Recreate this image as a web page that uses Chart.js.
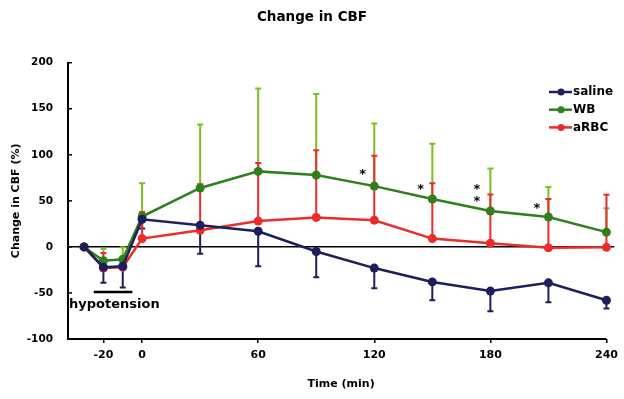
<!DOCTYPE html>
<html>
<head>
<meta charset="utf-8">
<script src="https://cdn.jsdelivr.net/npm/chart.js@4.4.1/dist/chart.umd.min.js"></script>
<style>
  html, body { margin: 0; padding: 0; background: #fff; }
  #wrap { width: 624px; height: 399px; }
</style>
</head>
<body>
<div id="wrap"><canvas id="cbf" width="624" height="399"></canvas></div>
<script>
// Change in CBF after hypotension, three resuscitation groups

const times = [-30, -20, -10, 0, 30, 60, 90, 120, 150, 180, 210, 240];
const xTicks = [-20, 0, 60, 120, 180, 240];

const saline = [0, -22, -21, 30, 23.5, 17, -5, -23, -38, -48, -39, -58];
const salineSD = [0, 17, 23, 10, 31, 38, 28, 22, 20, 22, 21, 9];

const wb = [0, -15, -13.5, 33, 64, 82, 78, 66, 52, 39, 32.5, 16];
const wbSD = [0, 13, 13, 36, 69, 90, 88, 68, 60, 46, 32.5, 26];

const arbc = [0, -23, -22, 9, 18, 28, 32, 29, 9, 4, -1, -0.5];
const arbcSD = [0, 16.5, 10, 29, 50, 63, 73, 70, 60, 53, 53, 57];

// significance marks (time, value)
const starX = [114, 144, 173, 173, 204];
const starY = [82, 65, 65.5, 52, 45];

const hypoText = 'hypotension';
const hypoFrom = -25;
const hypoTo = -5;
const hypoLevel = -49;

const FONT = 'DejaVu Sans';
Chart.defaults.font.family = FONT;
Chart.defaults.color = '#000';

const series = [
  { label: 'saline', data: saline, sd: salineSD, dir: -1, color: '#1c1f5c', bar: '#1c1f5c' },
  { label: 'WB', data: wb, sd: wbSD, dir: 1, color: '#2f7f1c', bar: '#7cbf1e' },
  { label: 'aRBC', data: arbc, sd: arbcSD, dir: 1, color: '#ec2b2b', bar: '#ec2b2b' },
];

const toXY = (vals) => vals.map((v, i) => ({ x: times[i], y: v }));

const errorBars = {
  id: 'errorBars',
  beforeDatasetsDraw(chart) {
    const { ctx, scales: { x, y } } = chart;
    ctx.save();
    ctx.lineWidth = 2;
    series.forEach((s) => {
      ctx.strokeStyle = s.bar;
      s.data.forEach((v, i) => {
        if (!s.sd[i]) return;
        const px = x.getPixelForValue(times[i]);
        const y0 = y.getPixelForValue(v);
        const y1 = y.getPixelForValue(v + s.dir * s.sd[i]);
        ctx.beginPath();
        ctx.moveTo(px, y0);
        ctx.lineTo(px, y1);
        ctx.moveTo(px - 3, y1);
        ctx.lineTo(px + 3, y1);
        ctx.stroke();
      });
    });
    ctx.restore();
  },
  afterDraw(chart) {
    const { ctx, chartArea, scales: { x, y } } = chart;
    ctx.save();
    // x axis line stops at the last tick
    ctx.strokeStyle = '#000';
    ctx.lineWidth = 2;
    ctx.beginPath();
    ctx.moveTo(chartArea.left - 1, chartArea.bottom);
    ctx.lineTo(x.getPixelForValue(xTicks[xTicks.length - 1]), chartArea.bottom);
    ctx.stroke();
    // inward ticks on y
    ctx.lineWidth = 1.5;
    y.ticks.forEach((t) => {
      const py = y.getPixelForValue(t.value);
      ctx.beginPath();
      ctx.moveTo(chartArea.left, py);
      ctx.lineTo(chartArea.left + 4, py);
      ctx.stroke();
    });

    // asterisks
    ctx.fillStyle = '#000';
    ctx.font = 'bold 13px ' + FONT;
    ctx.textAlign = 'center';
    ctx.textBaseline = 'middle';
    starX.forEach((sx, i) => {
      ctx.fillText('*', x.getPixelForValue(sx), y.getPixelForValue(starY[i]) + 3);
    });

    // hypotension label
    ctx.font = 'bold 13px ' + FONT;
    ctx.textAlign = 'left';
    ctx.fillText(hypoText, chartArea.left + 1, y.getPixelForValue(hypoLevel) + 13);

    // legend
    ctx.font = 'bold 12px ' + FONT;
    series.forEach((s, i) => {
      const ly = 92 + i * 17.7;
      ctx.strokeStyle = s.color;
      ctx.fillStyle = s.color;
      ctx.lineWidth = 2.5;
      ctx.beginPath();
      ctx.moveTo(549, ly);
      ctx.lineTo(572, ly);
      ctx.stroke();
      ctx.beginPath();
      ctx.arc(561, ly, 3.5, 0, Math.PI * 2);
      ctx.fill();
      ctx.fillStyle = '#000';
      ctx.fillText(s.label, 573, ly);
    });
    ctx.restore();
  },
};

new Chart(document.getElementById('cbf'), {
  type: 'line',
  data: {
    datasets: [
      ...series.map((s) => ({
        label: s.label,
        data: toXY(s.data),
        borderColor: s.color,
        backgroundColor: s.color,
        borderWidth: 2.5,
        pointRadius: 4.5,
        pointBorderWidth: 0,
        tension: 0,
      })),
      {
        label: 'hypotension',
        data: [{ x: hypoFrom, y: hypoLevel }, { x: hypoTo, y: hypoLevel }],
        borderColor: '#000',
        borderWidth: 2.5,
        pointRadius: 0,
      },
    ],
  },
  options: {
    responsive: false,
    animation: false,
    layout: { padding: 0 },
    plugins: {
      legend: { display: false },
      tooltip: { enabled: false },
      title: {
        display: true,
        text: 'Change in CBF',
        font: { size: 13.5, weight: 'bold' },
        color: '#000',
        padding: { top: 9, bottom: 37.5 },
      },
    },
    scales: {
      x: {
        type: 'linear',
        min: -38.3,
        max: 244,
        afterBuildTicks: (s) => { s.ticks = xTicks.map((v) => ({ value: v })); },
        afterFit: (s) => { s.height = 60; },
        border: { display: false },
        grid: { drawOnChartArea: false, drawTicks: true, tickLength: 4, color: '#000', lineWidth: 1.5 },
        ticks: { font: { size: 11, weight: 'bold' }, color: '#000', padding: 6, maxRotation: 0 },
        title: {
          display: true,
          text: 'Time (min)',
          font: { size: 11, weight: 'bold' },
          color: '#000',
          padding: { top: 0, bottom: 8 },
        },
      },
      y: {
        min: -100,
        max: 200,
        afterFit: (s) => { s.width = 68; },
        border: { display: true, color: '#000', width: 2 },
        grid: {
          drawTicks: false,
          color: (c) => (c.tick && c.tick.value === 0 ? '#000' : 'rgba(0,0,0,0)'),
          lineWidth: 1.5,
        },
        ticks: { stepSize: 50, font: { size: 10.5, weight: 'bold' }, color: '#000', padding: 15 },
        title: {
          display: true,
          text: 'Change in CBF (%)',
          font: { size: 11, weight: 'bold' },
          color: '#000',
          padding: { top: 10, bottom: 0 },
        },
      },
    },
  },
  plugins: [errorBars],
});
</script>
</body>
</html>
